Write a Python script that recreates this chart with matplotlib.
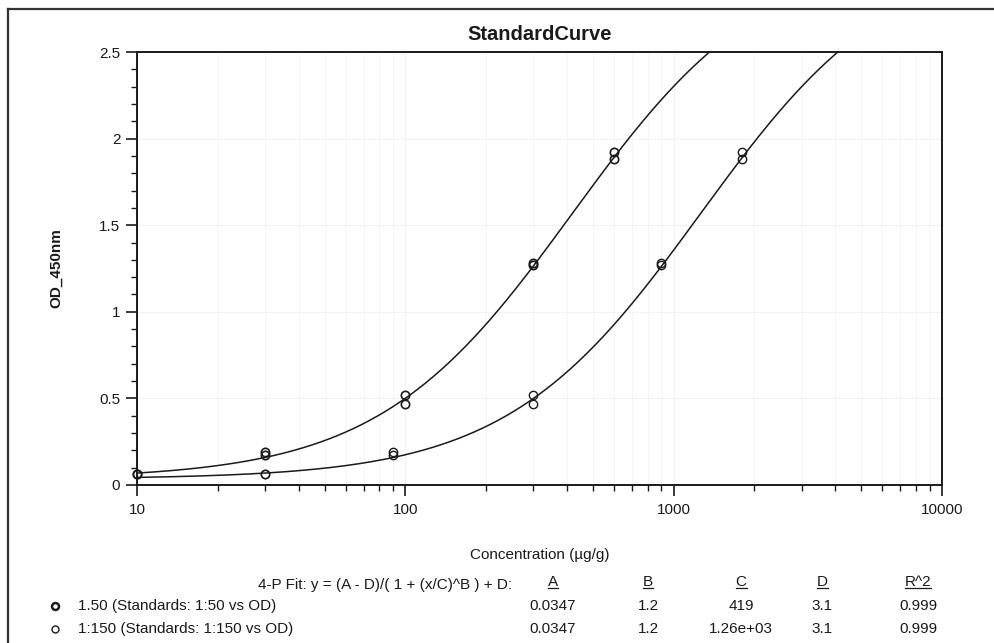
import matplotlib
matplotlib.use("Agg")
import matplotlib.pyplot as plt
from matplotlib.lines import Line2D
from matplotlib.ticker import FixedLocator, LogLocator, NullFormatter
import numpy as np

plt.rcParams["font.family"] = ["Liberation Sans", "DejaVu Sans"]

# Standards (concentration in ug/g vs OD 450nm)
s1_conc = [10, 10, 30, 30, 100, 100, 300, 300, 600, 600]
s1_od = [0.065, 0.062, 0.19, 0.175, 0.52, 0.47, 1.28, 1.27, 1.92, 1.88]
s2_conc = [30, 30, 90, 90, 300, 300, 900, 900, 1800, 1800]
s2_od = [0.065, 0.062, 0.19, 0.175, 0.52, 0.47, 1.28, 1.27, 1.92, 1.88]

# 4-P fit parameters shown in the table
fit_a = [0.0347, 0.0347]
fit_b = [1.2, 1.2]
fit_c = [419, 1260]
fit_d = [3.1, 3.1]

series_labels = ["1.50 (Standards: 1:50 vs OD)", "1:150 (Standards: 1:150 vs OD)"]
table_rows = [
    ["0.0347", "1.2", "419", "3.1", "0.999"],
    ["0.0347", "1.2", "1.26e+03", "3.1", "0.999"],
]
table_heads = ["A", "B", "C", "D", "R^2"]

x_ticks = [10, 100, 1000, 10000]
y_ticks = [0, 0.5, 1, 1.5, 2, 2.5]
y_ticklabels = ["0", "0.5", "1", "1.5", "2", "2.5"]

W, H = 994, 643
INK = "#1a1a1a"


def fp(x, y):
    """pixel position -> figure fraction"""
    return x / W, 1 - y / H


def four_pl(x, a, b, c, d):
    return (a - d) / (1 + (x / c) ** b) + d


fig = plt.figure(figsize=(W / 100, H / 100), dpi=100)
ax = fig.add_axes([137 / W, 1 - 485 / H, (942 - 137) / W, (485 - 52) / H])

ax.set_xscale("log")
ax.set_xlim(10, 10000)
ax.set_ylim(0, 2.5)

# fitted curves
xs = np.logspace(1, 4, 400)
for i in range(2):
    ax.plot(xs, four_pl(xs, fit_a[i], fit_b[i], fit_c[i], fit_d[i]),
            color=INK, lw=1.1, zorder=3)

ax.plot(s1_conc, s1_od, "o", ms=6, mfc="none", mec=INK, mew=1.2, zorder=4,
        clip_on=False)
ax.plot(s2_conc, s2_od, "o", ms=6, mfc="none", mec=INK, mew=1.0, zorder=4,
        clip_on=False)

# axes styling
for sp in ax.spines.values():
    sp.set_color(INK)
    sp.set_linewidth(1.4)

ax.xaxis.set_major_locator(FixedLocator(x_ticks))
ax.set_xticklabels([str(t) for t in x_ticks])
ax.xaxis.set_minor_locator(LogLocator(base=10, subs=np.arange(2, 10)))
ax.xaxis.set_minor_formatter(NullFormatter())
ax.yaxis.set_major_locator(FixedLocator(y_ticks))
ax.set_yticklabels(y_ticklabels)
ax.yaxis.set_minor_locator(FixedLocator(np.arange(0, 2.51, 0.1)))

ax.tick_params(which="major", direction="out", length=8, width=1.2,
               color=INK, labelsize=11, labelcolor=INK, pad=4)
ax.tick_params(which="minor", direction="out", length=4, width=1.0, color=INK)
ax.tick_params(axis="x", which="major", pad=5)

# barely visible background grid, like the scanned report
ax.grid(True, which="major", color="#f2f2f2", lw=0.8, zorder=0)
ax.grid(True, which="minor", axis="x", color="#f6f6f6", lw=0.7, zorder=0)

ax.set_title("StandardCurve", fontsize=14.5, fontweight="bold", color=INK, pad=9)
ax.set_ylabel("OD_450nm", fontsize=11, fontweight="bold", color=INK, labelpad=26)
ax.set_xlabel("Concentration (µg/g)", fontsize=11, color=INK, labelpad=22)

# outer frame of the report
fig.add_artist(Line2D([8 / W, 8 / W], [0, 1 - 9 / H], color="#333333", lw=1.6))
fig.add_artist(Line2D([8 / W, 1], [1 - 9 / H, 1 - 9 / H], color="#333333", lw=1.6))

# fit table
fig.text(*fp(512, 585), "4-P Fit: y = (A - D)/( 1 + (x/C)^B ) + D:", fontsize=11,
         color=INK, ha="right", va="center")
col_x = [553, 648, 741, 822, 918]
head_texts = []
for cx, h in zip(col_x, table_heads):
    head_texts.append(fig.text(*fp(cx, 582), h, fontsize=11, color=INK,
                               ha="center", va="center"))
row_y = [606, 629]
for ry, row in zip(row_y, table_rows):
    for cx, val in zip(col_x, row):
        fig.text(*fp(cx, ry), val, fontsize=11, color=INK, ha="center", va="center")

# legend rows
marker_mew = [1.8, 1.0]
for ry, lab, mw in zip(row_y, series_labels, marker_mew):
    fig.add_artist(Line2D([55 / W], [1 - ry / H], marker="o", ms=5, mfc="none",
                          mec=INK, mew=mw, ls="none"))
    fig.text(*fp(78, ry), lab, fontsize=11, color=INK, ha="left", va="center")

# underline the table headers
fig.canvas.draw()
renderer = fig.canvas.get_renderer()
inv = fig.transFigure.inverted()
for t in head_texts:
    bb = t.get_window_extent(renderer)
    (x0, y0), (x1, _) = inv.transform([(bb.x0, bb.y0), (bb.x1, bb.y1)])
    fig.add_artist(Line2D([x0, x1], [y0 + 1.5 / H, y0 + 1.5 / H], color=INK, lw=0.9))

fig.savefig("out.png", dpi=100)
